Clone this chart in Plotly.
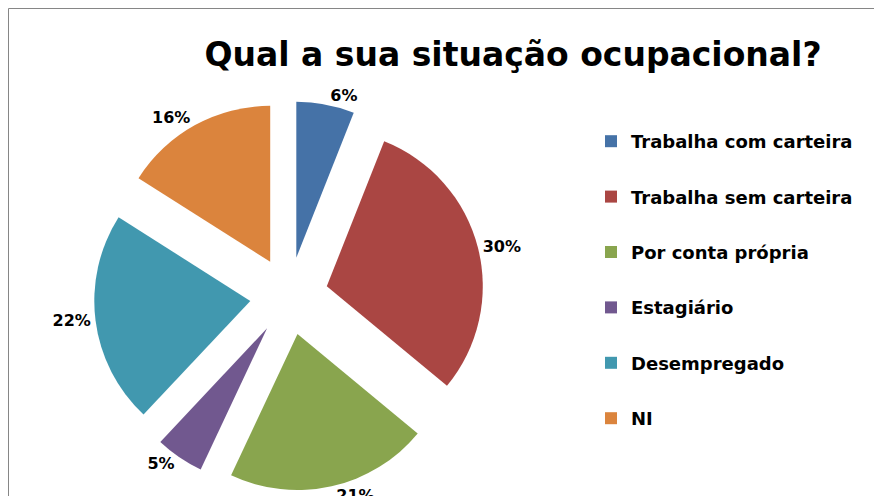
import plotly.graph_objects as go

categories = ["Trabalha com carteira", "Trabalha sem carteira", "Por conta própria",
              "Estagiário", "Desempregado", "NI"]
values = [6, 30, 21, 5, 22, 16]
colors = ["#4572A7", "#AA4643", "#89A54E", "#71588F", "#4198AF", "#DB843D"]
title_text = "Qual a sua situação ocupacional?"

W, H = 882, 496
fig = go.Figure()

# pie geometry (figure pixels -> paper)
cx, cy, half = 281, 288, 195
fig.add_trace(go.Pie(
    labels=categories, values=values, sort=False, direction="clockwise", rotation=0,
    marker=dict(colors=colors, line=dict(width=0)),
    pull=[0.25] * len(values),
    textinfo="percent", texttemplate="%{percent:.0%}", textposition="outside",
    textfont=dict(family="DejaVu Sans", size=16, color="#000000", weight="bold"),
    showlegend=False, hoverinfo="label+percent", automargin=False,
    domain=dict(x=[(cx - half) / W, (cx + half) / W],
                y=[(H - cy - half) / H, (H - cy + half) / H]),
))

# legend entries
for i, (c, col) in enumerate(zip(categories, colors)):
    fig.add_trace(go.Scatter(
        x=[None], y=[None], mode="markers", name=c, legendgroup=str(i),
        marker=dict(symbol="square", size=12, color=col),
    ))

fig.update_layout(
    width=W, height=H,
    margin=dict(l=0, r=0, t=0, b=0, autoexpand=False),
    paper_bgcolor="white", plot_bgcolor="white",
    xaxis=dict(visible=False), yaxis=dict(visible=False),
    title=dict(text=f"<b>{title_text}</b>", x=505 / W, xanchor="center",
               y=1 - 46 / H, yanchor="middle", automargin=False,
               font=dict(family="DejaVu Sans", size=33, color="#000000")),
    legend=dict(x=583 / W, xanchor="left", y=1 - 115 / H, yanchor="top",
                font=dict(family="DejaVu Sans", size=18, color="#000000", weight="bold"),
                tracegroupgap=29, itemwidth=30, bgcolor="rgba(0,0,0,0)"),
    shapes=[dict(type="rect", xref="paper", yref="paper",
                 x0=0.5 / W, x1=1.02, y0=-0.02, y1=1 - 0.5 / H,
                 line=dict(color="#868686", width=1), fillcolor="rgba(0,0,0,0)")],
)

fig.write_html("out.html")
